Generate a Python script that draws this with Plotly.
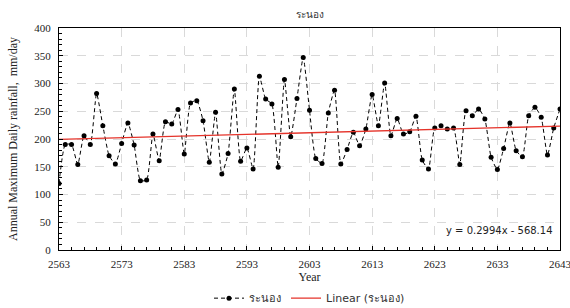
import plotly.graph_objects as go

years = list(range(2563, 2644))
rainfall = [120, 190, 190, 154, 206, 190, 282, 224, 170, 155,
            192, 229, 189, 125, 126, 209, 161, 231, 227, 253,
            173, 265, 269, 233, 158, 248, 137, 174, 290, 160,
            184, 146, 313, 272, 263, 149, 307, 204, 273, 347,
            252, 165, 156, 247, 288, 155, 181, 212, 188, 218,
            280, 224, 301, 206, 237, 209, 213, 241, 162, 146,
            220, 224, 218, 220, 154, 251, 242, 254, 236, 167,
            145, 183, 229, 179, 168, 242, 257, 239, 171, 220, 254]

x_ticks = [2563, 2573, 2583, 2593, 2603, 2613, 2623, 2633, 2643]
y_ticks = [0, 50, 100, 150, 200, 250, 300, 350, 400]

trend_slope = 0.2994
trend_intercept = -568.14
trend_x = [years[0], years[-1]]
trend_y = [trend_slope * x + trend_intercept for x in trend_x]

series_name = "ระนอง"
trend_name = "Linear (ระนอง)"
eq_label = "y = 0.2994x - 568.14"

fig = go.Figure()
fig.add_trace(go.Scatter(
    x=years, y=rainfall, mode="lines+markers", name=series_name,
    line=dict(color="black", width=1, dash="4px,3px", shape="spline", smoothing=0.5),
    marker=dict(color="black", size=5),
))
fig.add_trace(go.Scatter(
    x=trend_x, y=trend_y, mode="lines", name=trend_name,
    line=dict(color="#e5332a", width=1.3),
))

serif = "Liberation Serif, Times New Roman, serif"
sans = "DejaVu Sans, Verdana, sans-serif"
fig.update_layout(
    width=570, height=308,
    margin=dict(l=59, r=10, t=28, b=58, autoexpand=False),
    paper_bgcolor="white", plot_bgcolor="white",
    showlegend=True,
    legend=dict(orientation="h", x=0.5, xanchor="center", yref="container", y=0.032, yanchor="middle",
                font=dict(family=sans, size=11, color="#333"), bgcolor="rgba(0,0,0,0)",
                itemwidth=30, tracegroupgap=0),
    font=dict(family=serif, color="#222"),
)
fig.add_annotation(
    x=0.501, y=1.063, xref="paper", yref="paper", xanchor="center", yanchor="middle",
    text=series_name, showarrow=False,
    font=dict(family=sans, size=10, color="#333"),
)
fig.update_xaxes(
    range=[2563, 2643], tickmode="array", tickvals=x_ticks,
    showgrid=True, gridcolor="#d9d9d9", griddash="dash", gridwidth=1,
    showline=True, linecolor="black", linewidth=1, mirror=True,
    ticks="inside", ticklen=4, tickcolor="black",
    minor=dict(ticks="inside", dtick=2, tick0=2563, ticklen=3, tickcolor="black", showgrid=False),
    tickfont=dict(family=serif, size=11, color="#222"),
    ticklabeloverflow="allow", ticklabelstandoff=4,
    title=dict(text="Year", font=dict(family=serif, size=12, color="#222"), standoff=19),
    zeroline=False, automargin=False,
)
fig.update_yaxes(
    range=[0, 400], tickmode="array", tickvals=y_ticks,
    showgrid=True, gridcolor="#d9d9d9", griddash="dash", gridwidth=1,
    showline=True, linecolor="black", linewidth=1, mirror=True,
    ticks="inside", ticklen=4, tickcolor="black",
    minor=dict(ticks="inside", dtick=10, tick0=0, ticklen=3, tickcolor="black", showgrid=False),
    tickfont=dict(family=serif, size=11, color="#222"),
    ticklabelstandoff=5,
    title=dict(text="Annual Maximum Daily rainfall,  mm/day",
               font=dict(family=serif, size=12, color="#222"), standoff=14),
    zeroline=False, automargin=False,
)
fig.add_annotation(
    x=0.99, y=0.086, xref="paper", yref="paper", xanchor="right", yanchor="middle",
    text=eq_label, showarrow=False,
    font=dict(family=sans, size=10, color="#222"),
)
fig.write_html("out.html", config={"displayModeBar": False},
               post_script="document.body.style.margin='0';")
